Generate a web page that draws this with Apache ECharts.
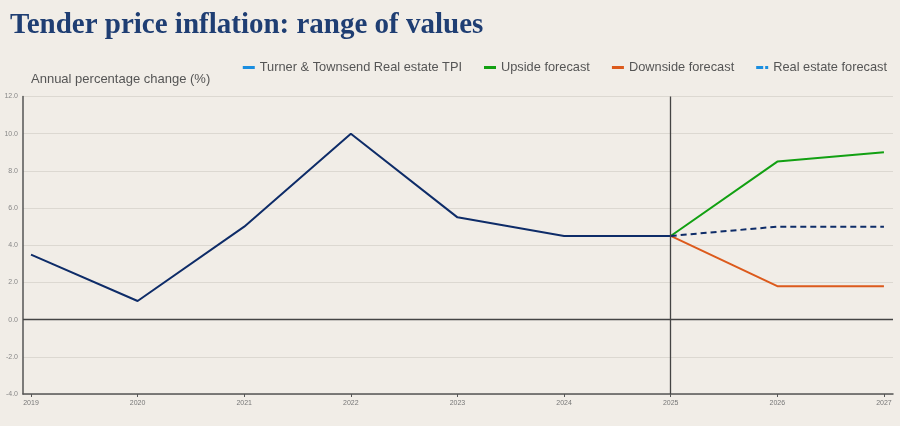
<!DOCTYPE html>
<html>
<head>
<meta charset="utf-8">
<script src="https://cdn.jsdelivr.net/npm/echarts@6/dist/echarts.min.js"></script>
<style>
  html, body { margin: 0; padding: 0; background: #f1ede7; }
  #chart { width: 900px; height: 426px; }
</style>
</head>
<body>
<div id="chart"></div>
<script>
// data
var tpiYears = [2019, 2020, 2021, 2022, 2023, 2024, 2025];
var tpiValues = [3.5, 1.0, 5.0, 10.0, 5.5, 4.5, 4.5];
var forecastYears = [2025, 2026, 2027];
var upsideValues = [4.5, 8.5, 9.0];
var downsideValues = [4.5, 1.8, 1.8];
var realEstateValues = [4.5, 5.0, 5.0];
var xTicks = [2019, 2020, 2021, 2022, 2023, 2024, 2025, 2026, 2027];
var yTicks = [-4, -2, 0, 2, 4, 6, 8, 10, 12];

function pairs(xs, ys) {
    return xs.map(function (x, i) { return [x, ys[i]]; });
}

var chart = echarts.init(document.getElementById('chart'));

chart.setOption({
    backgroundColor: '#f1ede7',
    animation: false,
    title: [
        {
            text: 'Tender price inflation: range of values',
            left: 5, top: 6,
            textStyle: { fontFamily: 'Liberation Serif', fontWeight: 'bold', fontSize: 29, color: '#1f3e73' }
        },
        {
            text: 'Annual percentage change (%)',
            left: 26, top: 68,
            textStyle: { fontFamily: 'Liberation Sans', fontWeight: 'normal', fontSize: 13, color: '#555' }
        }
    ],
    legend: {
        right: 8, top: 56,
        icon: 'rect',
        itemWidth: 12, itemHeight: 3,
        itemGap: 22,
        textStyle: { fontFamily: 'Liberation Sans', fontSize: 12.8, color: '#555' },
        data: [
            { name: 'Turner & Townsend Real estate TPI', itemStyle: { color: '#1a8ee0' } },
            { name: 'Upside forecast', itemStyle: { color: '#12a012' } },
            { name: 'Downside forecast', itemStyle: { color: '#dc5a1c' } },
            { name: 'Real estate forecast', icon: 'path://M0,0h7v3h-7z M9,0h3v3h-3z', itemStyle: { color: '#1a8ee0' } }
        ]
    },
    grid: { left: 23, right: 7, top: 96.5, bottom: 32 },
    xAxis: {
        type: 'value',
        min: 2018.925, max: 2027.085,
        axisLine: { onZero: false, lineStyle: { color: '#555', width: 1.5 } },
        axisTick: { show: true, length: 3, customValues: xTicks, lineStyle: { color: '#555' } },
        splitLine: { show: false },
        axisLabel: {
            fontSize: 7, color: '#777', margin: 6, fontFamily: 'Liberation Sans',
            customValues: xTicks,
            formatter: function (v) { return String(Math.round(v)); }
        }
    },
    yAxis: {
        type: 'value',
        min: yTicks[0], max: yTicks[yTicks.length - 1], interval: 2,
        axisLine: { show: true, lineStyle: { color: '#555', width: 1.5 } },
        axisTick: { show: false },
        splitLine: { lineStyle: { color: '#dcd8d1', width: 1 } },
        axisLabel: {
            fontSize: 7, color: '#888', margin: 5, fontFamily: 'Liberation Sans',
            formatter: function (v) { return v.toFixed(1); }
        }
    },
    series: [
        {
            name: 'Turner & Townsend Real estate TPI',
            type: 'line', symbol: 'none',
            data: pairs(tpiYears, tpiValues),
            lineStyle: { color: '#0e2c68', width: 2 },
            itemStyle: { color: '#0e2c68' },
            markLine: {
                silent: true, symbol: 'none',
                label: { show: false },
                lineStyle: { color: '#444', width: 1.3, type: 'solid' },
                data: [{ xAxis: 2025 }, { yAxis: 0 }]
            },
            z: 3
        },
        {
            name: 'Upside forecast',
            type: 'line', symbol: 'none',
            data: pairs(forecastYears, upsideValues),
            lineStyle: { color: '#12a012', width: 2 },
            itemStyle: { color: '#12a012' }
        },
        {
            name: 'Downside forecast',
            type: 'line', symbol: 'none',
            data: pairs(forecastYears, downsideValues),
            lineStyle: { color: '#dc5a1c', width: 2 },
            itemStyle: { color: '#dc5a1c' }
        },
        {
            name: 'Real estate forecast',
            type: 'line', symbol: 'none',
            data: pairs(forecastYears, realEstateValues),
            lineStyle: { color: '#0e2c68', width: 2, type: [6, 4] },
            itemStyle: { color: '#0e2c68' }
        }
    ]
});
</script>
</body>
</html>
